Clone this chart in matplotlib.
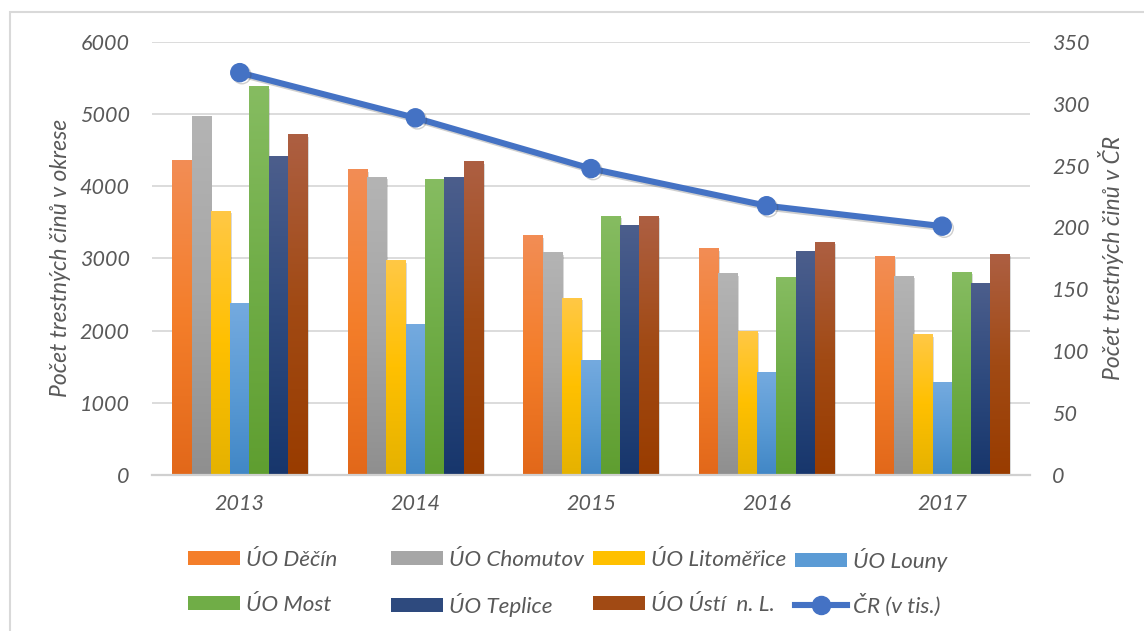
import numpy as np
import matplotlib
matplotlib.use("Agg")
import matplotlib.pyplot as plt
from matplotlib.lines import Line2D
from matplotlib.patches import Patch, Rectangle
from matplotlib.colors import to_rgb
import matplotlib.patheffects as pe

# --- data -------------------------------------------------------------
years = ["2013", "2014", "2015", "2016", "2017"]

districts = ["ÚO Děčín", "ÚO Chomutov", "ÚO Litoměřice", "ÚO Louny",
             "ÚO Most", "ÚO Teplice", "ÚO Ústí  n. L."]

decin      = [4360, 4225, 3310, 3130, 3020]
chomutov   = [4970, 4125, 3075, 2785, 2755]
litomerice = [3645, 2965, 2450, 1985, 1940]
louny      = [2380, 2080, 1580, 1415, 1275]
most       = [5375, 4085, 3575, 2740, 2800]
teplice    = [4405, 4115, 3450, 3090, 2645]
usti       = [4710, 4335, 3585, 3215, 3060]

cr_total = [325, 288.5, 247.5, 217.5, 201]   # thousands
cr_label = "ČR (v tis.)"

left_ticks = [0, 1000, 2000, 3000, 4000, 5000, 6000]
right_ticks = [0, 50, 100, 150, 200, 250, 300, 350]

left_title = "Počet trestných činů v okrese"
right_title = "Počet trestných činů v ČR"

# --- styling ----------------------------------------------------------
series = [decin, chomutov, litomerice, louny, most, teplice, usti]
# (top, middle, bottom) colours for the vertical gradient of each series
gradients = [
    ("#F28D55", "#F47E2A", "#E2681A"),
    ("#B4B4B4", "#A6A6A6", "#8F8F8F"),
    ("#FFC845", "#FFC000", "#E5B200"),
    ("#74AADF", "#5B9BD5", "#4187C6"),
    ("#86BC61", "#70AD47", "#5F9E30"),
    ("#4C5E8C", "#2E4A7E", "#17366C"),
    ("#AD5F42", "#A14A14", "#993C00"),
]
line_color = "#4472C4"
text_color = "#595959"
grid_color = "#D9D9D9"

font = ["Lato", "DejaVu Sans"]
plt.rcParams["font.family"] = font
plt.rcParams["font.style"] = "italic"

W, H = 1144, 631
fig = plt.figure(figsize=(W / 100, H / 100), dpi=100)
fig.patch.set_facecolor("white")

# chart frame
fig.add_artist(Rectangle((10 / W, -0.05), 1.2, 1 - 12 / H + 0.05,
                         transform=fig.transFigure, fill=False,
                         edgecolor="#D9D9D9", linewidth=1.5))

ax = fig.add_axes([152 / W, 1 - 475 / H, (1030 - 152) / W, (475 - 41.7) / H])
ax.set_facecolor("none")

n = len(series)
x = np.arange(len(years))
group = 0.77
bw = group / n


def gradient_image(c_top, c_mid, c_bot, steps=128):
    t = np.linspace(0, 1, steps)[:, None]
    top, mid, bot = (np.array(to_rgb(c)) for c in (c_top, c_mid, c_bot))
    img = np.where(t < 0.5,
                   top + (mid - top) * (t / 0.5),
                   mid + (bot - mid) * ((t - 0.5) / 0.5))
    return img[:, None, :]


bar_shadow = [pe.SimplePatchShadow(offset=(1.2, -1.2), alpha=0.18,
                                   shadow_rgbFace="#303030"), pe.Normal()]

for i, (vals, cols) in enumerate(zip(series, gradients)):
    offs = x - group / 2 + bw * (i + 0.5)
    bars = ax.bar(offs, vals, width=bw, color=cols[1], linewidth=0, zorder=2,
                  label=districts[i], path_effects=bar_shadow)
    img = gradient_image(*cols)
    for b in bars:
        x0, w, h = b.get_x(), b.get_width(), b.get_height()
        ax.imshow(img, extent=(x0, x0 + w, 0, h), aspect="auto",
                  interpolation="bilinear", zorder=3)

ax.set_xlim(-0.5, len(years) - 0.5)
ax.set_ylim(0, 6000)
ax.set_yticks(left_ticks)
ax.set_xticks(x)
ax.set_xticklabels(years)
ax.yaxis.grid(True, color=grid_color, linewidth=1.3, zorder=0)
ax.set_axisbelow(True)
for s in ("left", "right", "top"):
    ax.spines[s].set_visible(False)
ax.spines["bottom"].set_color("#D0D0D0")
ax.spines["bottom"].set_linewidth(1.6)
ax.spines["bottom"].set_zorder(4)
ax.tick_params(axis="both", length=0, labelsize=15.5, colors=text_color)
ax.tick_params(axis="y", pad=16)
ax.tick_params(axis="x", pad=14)
ax.set_ylabel(left_title, fontsize=16.5, color=text_color, labelpad=6)

ax2 = ax.twinx()
ax2.set_ylim(0, 350)
ax2.set_yticks(right_ticks)
for s in ("left", "right", "top", "bottom"):
    ax2.spines[s].set_visible(False)
ax2.tick_params(axis="y", length=0, labelsize=15.5, colors=text_color, pad=16)
ax2.set_ylabel(right_title, fontsize=16.5, color=text_color, rotation=90,
               labelpad=6)
ax2.plot(x, cr_total, color=line_color, linewidth=4.4, marker="o",
         markersize=13, zorder=5, solid_capstyle="round",
         path_effects=[pe.SimpleLineShadow(offset=(1.5, -1.5), alpha=0.25,
                                           shadow_color="#404040"),
                       pe.Normal()])

# --- legend: 4 equal columns x 2 rows ----------------------------------
handles = [Patch(facecolor=c[1], edgecolor="none") for c in gradients]
handles.append(Line2D([], [], color=line_color, linewidth=4.4, marker="o",
                      markersize=13))
labels = districts + [cr_label]
col_x = [188, 391, 593, 795]
row_y = [560, 605]
fs_leg = 16.2
for k, (h, lab) in enumerate(zip(handles, labels)):
    r, c = divmod(k, 4)
    fig.legend(handles=[h], labels=[lab], loc="center left",
               bbox_to_anchor=(col_x[c] / W, 1 - row_y[r] / H),
               frameon=False, borderpad=0, borderaxespad=0,
               handlelength=52 / (fs_leg * 100 / 72),
               handleheight=14 / (fs_leg * 100 / 72),
               handletextpad=0.28,
               fontsize=fs_leg, labelcolor=text_color)

fig.savefig("out.png", dpi=100, facecolor="white")
